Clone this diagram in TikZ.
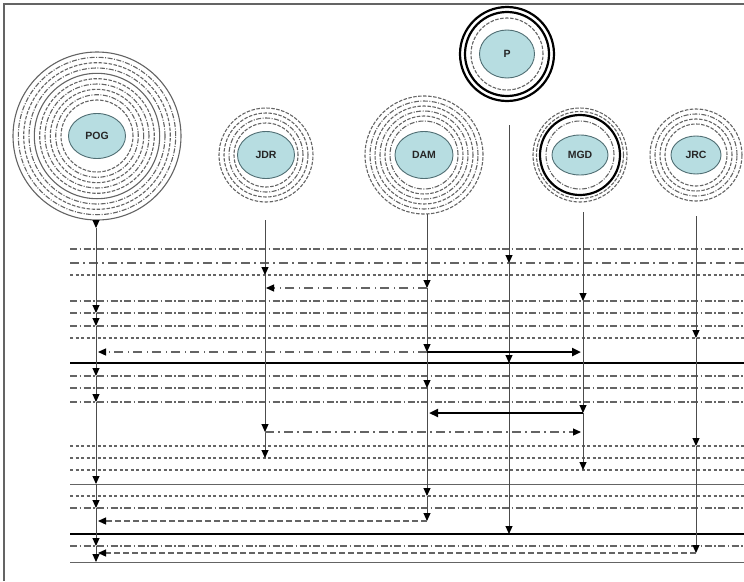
\documentclass[tikz,border=0pt]{standalone}
\usepackage{fontspec}
\setmainfont{Liberation Sans}
\usetikzlibrary{shapes.geometric,arrows.meta}
\definecolor{nodefill}{RGB}{183,221,225}
\definecolor{nodeline}{RGB}{80,110,115}
\definecolor{ringgray}{RGB}{100,100,100}
\tikzset{
  actor/.style={ellipse,draw=nodeline,line width=0.9pt,fill=nodefill,inner sep=0pt,
    font=\fontsize{10.5}{12}\selectfont\bfseries,text=black!85},
  ringsolid/.style={draw=ringgray,line width=1.1pt},
  ringdash/.style={draw=ringgray,line width=1.1pt,dash pattern=on 3.5pt off 1.5pt},
  ringdot/.style={draw=ringgray,line width=1.1pt,dash pattern=on 5pt off 1.5pt on 1pt off 1.5pt},
  ringthick/.style={draw=black,line width=2.2pt},
  gridA/.style={draw=ringgray,line width=1.2pt,dash pattern=on 7pt off 2.5pt on 1.5pt off 2.5pt},
  gridB/.style={draw=ringgray,line width=1.2pt,dash pattern=on 9pt off 4pt on 1.5pt off 4.5pt},
  gridC/.style={draw=ringgray,line width=1.2pt,dash pattern=on 3pt off 2.5pt},
  gridS/.style={draw=ringgray,line width=0.9pt},
  gridT/.style={draw=black,line width=2.8pt},
  life/.style={draw=black!70,line width=1pt,-{Triangle[length=8pt,width=7pt,color=black]}},
  msgdd/.style={gridB,-{Triangle[length=8pt,width=7pt,color=black]}},
  msgdash/.style={draw=ringgray,line width=1.3pt,dash pattern=on 6pt off 3pt,
    -{Triangle[length=8pt,width=7pt,color=black]}},
  msgthick/.style={draw=black,line width=2.6pt,-{Triangle[length=9pt,width=8pt]}}
}
\begin{document}
\begin{tikzpicture}[x=1pt,y=-1pt]
\useasboundingbox (0,0) rectangle (744,581);
\draw[ringgray,line width=1.3pt] (4,581) -- (4,4) -- (744,4);

% actors
\node[actor,minimum width=57pt,minimum height=45pt] (POG) at (97,136) {POG};
\node[actor,minimum width=57pt,minimum height=47pt] (JDR) at (266,155) {JDR};
\node[actor,minimum width=58pt,minimum height=47pt] (DAM) at (424,155) {DAM};
\node[actor,minimum width=55pt,minimum height=48pt] (P) at (507,54) {P};
\node[actor,minimum width=56pt,minimum height=40pt] (MGD) at (580,155) {MGD};
\node[actor,minimum width=50pt,minimum height=38pt] (JRC) at (696,155) {JRC};

% rings
\foreach \r/\s in {84/ringsolid,78.7/ringdot,73.3/ringdash,68/ringdot,62.7/ringsolid,
  57.3/ringdash,52/ringdot,46.7/ringdash,41.3/ringdot,36/ringdash}
  \draw[\s] (POG) circle (\r pt);
\foreach \r/\s in {47/ringdash,42/ringdash,37/ringdot,32/ringdash}
  \draw[\s] (JDR) circle (\r pt);
\foreach \r/\s in {59/ringdash,54/ringdot,49/ringdash,44/ringdot,39/ringdash,34/ringdot}
  \draw[\s] (DAM) circle (\r pt);
\foreach \r/\s in {47/ringthick,42/ringthick,36/ringdash}
  \draw[\s] (P) circle (\r pt);
\foreach \r/\s in {47/ringdash,43.5/ringdash,40/ringthick,34/ringdot}
  \draw[\s] (MGD) circle (\r pt);
\foreach \r/\s in {46/ringdash,41/ringdot,36/ringdash,31/ringdash}
  \draw[\s] (JRC) circle (\r pt);

% rows
\foreach \y/\s in {249/gridA,263/gridB,275/gridC,301/gridA,313/gridA,326/gridA,338/gridC,
  363/gridT,376/gridA,388/gridA,402/gridA,446/gridC,458/gridC,470/gridC,484/gridS,
  496/gridC,508/gridA,534/gridT,546/gridA,562/gridS}
  \draw[\s] (70,\y) -- (744,\y);

% lifelines
\path (96,220) coordinate (pog0) (96,228) coordinate (pog1)
  (96,313) coordinate (pog2) (96,326) coordinate (pog3)
  (98,352) coordinate (pog4) (96,376) coordinate (pog5)
  (96,402) coordinate (pog6) (96,484) coordinate (pog7)
  (96,508) coordinate (pog8) (98,521) coordinate (pog9)
  (96,546) coordinate (pog10) (98,553) coordinate (pog11)
  (96,562) coordinate (pog12);
\path (265,220) coordinate (jdr0) (265,275) coordinate (jdr1)
  (266,288) coordinate (jdr2) (265,432) coordinate (jdr3)
  (265,458) coordinate (jdr4);
\path (427,214) coordinate (dam0) (427,288) coordinate (dam1)
  (427,352) coordinate (dam2) (427,388) coordinate (dam3)
  (429,413) coordinate (dam4) (427,496) coordinate (dam5)
  (427,521) coordinate (dam6);
\path (509,125) coordinate (p0) (509,263) coordinate (p1)
  (509,363) coordinate (p2) (509,534) coordinate (p3);
\path (583,212) coordinate (mgd0) (583,301) coordinate (mgd1)
  (581,352) coordinate (mgd2) (583,413) coordinate (mgd3)
  (581,432) coordinate (mgd4) (583,470) coordinate (mgd5);
\path (696,216) coordinate (jrc0) (696,338) coordinate (jrc1)
  (696,446) coordinate (jrc2) (696,553) coordinate (jrc3);

\foreach \a/\b in {pog0/pog1,pog1/pog2,pog2/pog3,pog3/pog5,pog5/pog6,pog6/pog7,
  pog7/pog8,pog8/pog10,pog10/pog12,jdr0/jdr1,jdr1/jdr3,jdr3/jdr4,
  dam0/dam1,dam1/dam2,dam2/dam3,dam3/dam5,dam5/dam6,p0/p1,p1/p2,p2/p3,
  mgd0/mgd1,mgd1/mgd3,mgd3/mgd5,jrc0/jrc1,jrc1/jrc2,jrc2/jrc3}
  \draw[life] (\a) -- (\b);

% messages
\draw[msgdd] (dam1) -- (jdr2);
\draw[msgdd] (dam2) -- (pog4);
\draw[msgthick] (dam2) -- (mgd2);
\draw[msgthick] (mgd3) -- (dam4);
\draw[msgdd] (jdr3) -- (mgd4);
\draw[msgdash] (dam6) -- (pog9);
\draw[msgdash] (jrc3) -- (pog11);
\end{tikzpicture}
\end{document}
